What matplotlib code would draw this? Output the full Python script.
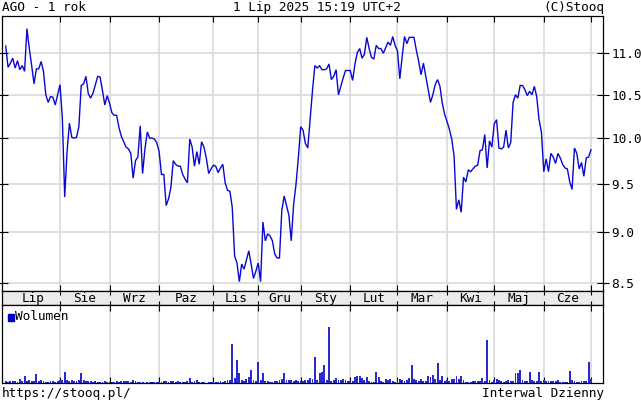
import numpy as np
import pandas as pd
import matplotlib
matplotlib.use("Agg")
import matplotlib.pyplot as plt
from matplotlib.patches import Rectangle
from matplotlib.ticker import FixedLocator, FixedFormatter, NullLocator

# ---------------- data ----------------
title_left = "AGO - 1 rok"
title_mid = "1 Lip 2025 15:19 UTC+2"
title_right = "(C)Stooq"
footer_left = "https://stooq.pl/"
footer_right = "Interwal Dzienny"
legend_label = "Wolumen"

month_labels = ["Lip", "Sie", "Wrz", "Paz", "Lis", "Gru",
                "Sty", "Lut", "Mar", "Kwi", "Maj", "Cze"]
y_ticks = [8.5, 9.0, 9.5, 10.0, 10.5, 11.0]
y_tick_labels = ["8.5", "9.0", "9.5", "10.0", "10.5", "11.0"]

start_date = "2024-07-01"
end_date = "2025-07-01"
holidays = ["2024-08-15", "2024-11-01", "2024-11-11", "2024-12-24",
            "2024-12-25", "2024-12-26", "2024-12-31", "2025-01-01",
            "2025-01-06", "2025-04-18", "2025-04-21", "2025-05-01",
            "2025-06-19"]

close = [
    11.09, 10.83, 10.88, 10.94, 10.82, 10.91, 10.80, 10.85, 10.78, 11.31,
    11.06, 10.85, 10.63, 10.81, 10.81, 10.90, 10.78, 10.50, 10.41, 10.48,
    10.47, 10.38, 10.50, 10.62, 10.23, 9.36, 9.85, 10.17, 10.01, 10.00,
    10.01, 10.13, 10.61, 10.63, 10.72, 10.51, 10.46, 10.52, 10.62, 10.72,
    10.71, 10.55, 10.38, 10.49, 10.40, 10.29, 10.26, 10.26, 10.12, 10.02,
    9.96, 9.90, 9.88, 9.83, 9.56, 9.75, 9.79, 10.14, 9.61, 9.88,
    10.07, 10.00, 10.00, 9.99, 9.95, 9.85, 9.60, 9.60, 9.27, 9.34,
    9.46, 9.75, 9.71, 9.69, 9.69, 9.60, 9.55, 9.51, 9.99, 9.90,
    9.69, 9.85, 9.71, 9.96, 9.90, 9.78, 9.61, 9.66, 9.70, 9.69,
    9.62, 9.67, 9.71, 9.51, 9.43, 9.42, 9.25, 8.76, 8.69, 8.51,
    8.68, 8.63, 8.72, 8.81, 8.68, 8.54, 8.61, 8.69, 8.51, 9.10,
    8.91, 8.98, 8.96, 8.91, 8.78, 8.74, 8.74, 9.22, 9.37, 9.27,
    9.17, 8.91, 9.28, 9.49, 9.78, 10.13, 10.09, 9.94, 9.89, 10.22,
    10.55, 10.85, 10.82, 10.85, 10.80, 10.80, 10.81, 10.87, 10.68, 10.72,
    10.80, 10.50, 10.60, 10.70, 10.79, 10.79, 10.79, 10.67, 10.87, 11.01,
    11.06, 10.94, 10.99, 11.20, 11.06, 10.95, 10.93, 11.10, 11.06, 11.06,
    11.00, 11.07, 11.14, 11.10, 11.21, 11.10, 11.03, 10.69, 10.96, 11.21,
    11.12, 11.20, 11.20, 11.20, 11.04, 10.90, 10.74, 10.88, 10.72, 10.56,
    10.41, 10.50, 10.62, 10.68, 10.60, 10.40, 10.27, 10.19, 10.10, 9.99,
    9.80, 9.23, 9.33, 9.20, 9.57, 9.52, 9.65, 9.63, 9.66, 9.69,
    9.70, 9.86, 9.87, 10.04, 9.67, 9.97, 9.90, 10.16, 10.21, 9.89,
    9.88, 9.90, 10.09, 9.89, 9.95, 10.41, 10.50, 10.46, 10.61, 10.61,
    10.56, 10.49, 10.54, 10.50, 10.60, 10.48, 10.21, 10.07, 9.63, 9.77,
    9.63, 9.83, 9.79, 9.72, 9.83, 9.78, 9.71, 9.67, 9.66, 9.52,
    9.44, 9.89, 9.83, 9.66, 9.73, 9.58, 9.78, 9.79, 9.87,
]

volume = [
    15, 10, 15, 15, 20, 10, 37, 15, 67, 20,
    25, 15, 15, 87, 20, 25, 15, 10, 10, 20,
    15, 10, 20, 25, 30, 107, 30, 20, 25, 20,
    15, 30, 100, 30, 20, 20, 15, 10, 20, 10,
    5, 10, 15, 10, 5, 10, 5, 15, 5, 15,
    15, 20, 15, 10, 25, 15, 5, 10, 5, 0,
    5, 10, 5, 10, 5, 5, 10, 15, 15, 10,
    20, 15, 10, 15, 10, 5, 10, 15, 53, 10,
    20, 33, 10, 10, 5, 0, 5, 5, 10, 5,
    10, 15, 10, 20, 25, 30, 387, 50, 227, 100,
    30, 20, 40, 60, 133, 30, 15, 213, 30, 100,
    20, 15, 10, 10, 15, 20, 25, 40, 100, 30,
    25, 30, 20, 25, 20, 15, 20, 25, 30, 50,
    40, 260, 30, 100, 110, 177, 30, 560, 20, 30,
    53, 30, 25, 40, 30, 20, 15, 20, 60, 70,
    70, 50, 30, 60, 20, 10, 5, 107, 60, 20,
    5, 40, 30, 35, 20, 10, 30, 40, 30, 15,
    30, 50, 177, 40, 30, 20, 40, 20, 15, 70,
    60, 80, 40, 200, 30, 65, 20, 30, 20, 40,
    35, 67, 40, 70, 30, 10, 10, 5, 20, 15,
    20, 15, 47, 20, 433, 30, 10, 30, 40, 30,
    20, 10, 20, 30, 15, 20, 100, 100, 133, 30,
    20, 15, 110, 30, 20, 15, 110, 20, 30, 20,
    20, 15, 15, 20, 30, 5, 5, 5, 5, 120,
    30, 20, 10, 10, 20, 15, 20, 213, 40,
]

# ---------------- trading calendar ----------------
dates = pd.bdate_range(start_date, end_date)
dates = dates[~dates.isin(pd.to_datetime(holidays))]
n = len(close)
dates = dates[:n]
x = np.arange(n)
month_starts = [i for i in range(1, n) if dates[i].month != dates[i - 1].month]
bounds = [0] + month_starts
label_pos = [(bounds[k] + bounds[k + 1]) / 2 for k in range(len(bounds) - 1)]
label_pos = label_pos[:len(month_labels)]

# ---------------- styling ----------------
plt.rcParams["font.family"] = ["DejaVu Sans Mono"]
FS = 9.2
W, H = 641, 405
LINE = "#0808d0"
GRID = "#d9d9d9"
FRAME_LW = 0.9


def rect(l, t, r, b):
    return [l / W, 1 - b / H, (r - l) / W, (b - t) / H]


fig = plt.figure(figsize=(W / 100, H / 100), dpi=100)
fig.patch.set_facecolor("white")

xmin, xmax = -1.57, 253.1

# main price panel
ax = fig.add_axes(rect(2, 16, 603, 291))
ax.plot(x, close, color=LINE, lw=1.0, solid_joinstyle="miter")
ax.set_yscale("log")
ax.set_ylim(8.421, 11.472)
ax.set_xlim(xmin, xmax)
ax.yaxis.set_major_locator(FixedLocator(y_ticks))
ax.yaxis.set_major_formatter(FixedFormatter(y_tick_labels))
ax.yaxis.set_minor_locator(NullLocator())
ax.xaxis.set_major_locator(FixedLocator(month_starts))
ax.xaxis.set_minor_locator(NullLocator())
ax.tick_params(axis="y", which="major", direction="inout", length=8, width=0.8,
               left=True, right=True, labelleft=False, labelright=True,
               labelsize=FS, pad=2, colors="black")
ax.tick_params(axis="x", which="major", direction="in", length=4, width=0.8,
               top=True, bottom=True, labelbottom=False)
ax.grid(True, color=GRID, lw=1.2)
ax.set_axisbelow(True)
for s in ax.spines.values():
    s.set_linewidth(FRAME_LW)
    s.set_color("black")

# month band
band = fig.add_axes(rect(2, 291, 603, 305))
band.set_facecolor("#ebebeb")
band.set_xlim(xmin, xmax)
band.set_ylim(0, 1)
band.set_yticks([])
band.xaxis.set_major_locator(FixedLocator(month_starts))
band.tick_params(axis="x", direction="in", length=3, width=0.8,
                 top=True, bottom=True, labelbottom=False)
for pos, lab in zip(label_pos, month_labels):
    band.text(pos, 0.45, lab, ha="center", va="center", fontsize=FS)
for s in band.spines.values():
    s.set_linewidth(FRAME_LW)

# volume panel
axv = fig.add_axes(rect(2, 305, 603, 383))
axv.bar(x, volume, width=0.8, color="#2a2ad0", lw=0)
axv.set_xlim(xmin, xmax)
axv.set_ylim(0, max(volume) * 1.39)
axv.set_yticks([])
axv.xaxis.set_major_locator(FixedLocator(month_starts))
axv.tick_params(axis="x", direction="in", length=4, width=0.8,
                top=True, bottom=True, labelbottom=False)
axv.grid(True, axis="x", color=GRID, lw=1.2)
axv.set_axisbelow(True)
for s in axv.spines.values():
    s.set_linewidth(FRAME_LW)

# legend for volume
fig.patches.append(Rectangle((7.5 / W, 1 - 320.5 / H), 6.5 / W, 7 / H,
                             transform=fig.transFigure, color="#0000cc"))
fig.text(15 / W, 1 - 316.5 / H, legend_label, ha="left", va="center", fontsize=FS)

# header and footer
ty = 1 - 7.5 / H
fig.text(2 / W, ty, title_left, ha="left", va="center", fontsize=FS)
fig.text(316.5 / W, ty, title_mid, ha="center", va="center", fontsize=FS)
fig.text(604 / W, ty, title_right, ha="right", va="center", fontsize=FS)
fy = 1 - 393.5 / H
fig.text(2 / W, fy, footer_left, ha="left", va="center", fontsize=FS)
fig.text(604 / W, fy, footer_right, ha="right", va="center", fontsize=FS)

fig.savefig("out.png", dpi=100, facecolor="white")
